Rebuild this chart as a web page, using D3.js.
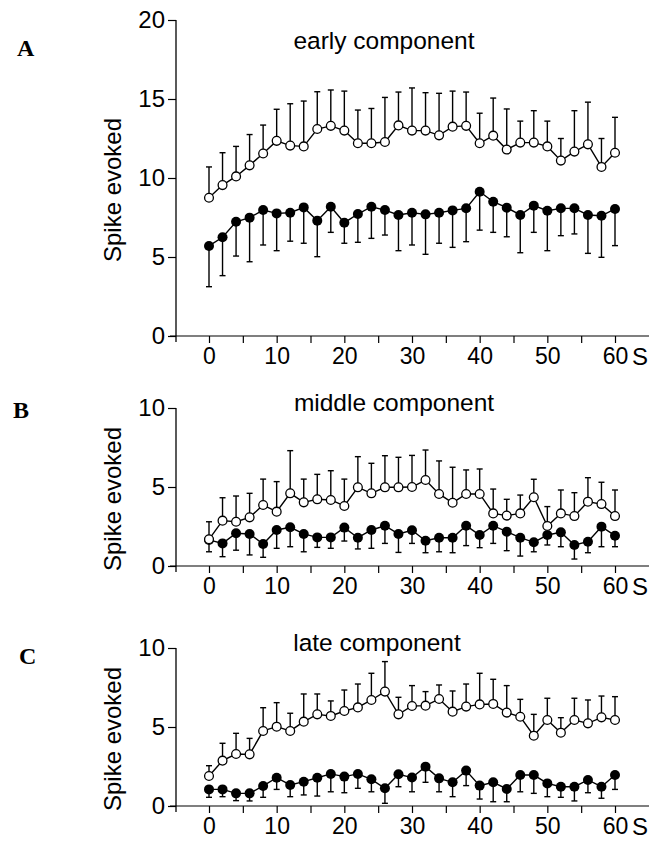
<!DOCTYPE html>
<html>
<head>
<meta charset="utf-8">
<script src="https://cdn.jsdelivr.net/npm/d3@7"></script>
<style>
  html, body { margin: 0; padding: 0; background: #fff; }
  svg { display: block; }
  text { font-family: "Liberation Sans", Arial, Helvetica, sans-serif; fill: #000; }
</style>
</head>
<body>
<svg id="chart" width="663" height="842"></svg>
<script>
// ---- data ----
const times = [0,2,4,6,8,10,12,14,16,18,20,22,24,26,28,30,32,34,36,38,40,42,44,46,48,50,52,54,56,58,60];
const xTickValues = [0,5,10,15,20,25,30,35,40,45,50,55,60];
const xTickLabels = [0,10,20,30,40,50,60];
const panelLetters = ["A","B","C"];
const panelTitles = ["early component","middle component","late component"];
const yTicksA = [0,5,10,15,20];
const yTicksBC = [0,5,10];

const earlyOpenMean  = [8.75,9.55,10.1,10.8,11.55,12.35,12.05,12.0,13.1,13.3,13.0,12.2,12.2,12.28,13.33,13.0,13.0,12.7,13.25,13.3,12.2,12.68,11.8,12.24,12.24,12.0,11.1,11.67,12.13,10.7,11.6];
const earlyOpenUpper = [10.7,11.6,12.0,12.75,13.35,14.35,14.7,14.87,15.46,15.57,15.5,14.3,14.4,15.1,15.44,15.7,15.4,15.36,15.5,15.44,14.1,15.06,14.37,13.6,14.26,13.6,12.5,14.26,14.8,12.5,13.84];
const earlyFillMean  = [5.7,6.25,7.23,7.49,7.97,7.76,7.8,8.14,7.3,8.18,7.17,7.72,8.18,7.97,7.66,7.8,7.7,7.8,7.95,8.08,9.13,8.5,8.12,7.66,8.25,7.93,8.08,8.08,7.66,7.61,8.04];
const earlyFillLower = [3.12,3.82,5.06,4.7,5.76,5.4,6.0,5.87,5.02,6.56,5.87,5.93,6.18,6.39,5.4,5.76,5.17,5.87,5.61,5.97,6.7,6.56,6.28,5.27,6.56,5.4,6.35,6.46,5.23,4.98,5.72];

const middleOpenMean  = [1.69,2.87,2.8,3.08,3.86,3.44,4.6,4.03,4.22,4.18,3.8,4.98,4.6,4.98,4.98,5.0,5.44,4.56,4.0,4.56,4.56,3.33,3.19,3.33,4.35,2.53,3.33,3.16,4.07,3.92,3.16];
const middleOpenUpper = [2.8,4.32,4.43,4.6,5.5,5.34,7.3,5.5,5.8,6.03,5.5,6.92,6.5,6.98,6.88,7.0,7.34,6.65,6.25,6.08,6.14,4.87,4.22,4.49,5.49,3.76,4.81,4.64,5.59,5.3,4.81];
const middleFillMean  = [1.65,1.43,2.07,2.03,1.39,2.28,2.45,2.03,1.81,1.81,2.43,1.79,2.28,2.55,2.03,2.26,1.6,1.79,1.79,2.55,1.96,2.55,2.17,1.79,1.5,1.96,2.13,1.33,1.54,2.49,1.92];
const middleFillLower = [0.9,0.59,1.0,0.7,0.55,1.12,1.22,0.9,1.18,1.12,1.58,1.08,1.12,1.43,0.86,1.43,0.84,0.9,0.84,1.29,1.16,1.43,0.97,0.63,0.9,1.33,1.22,0.44,0.84,1.22,1.22];

const lateOpenMean  = [1.9,2.87,3.29,3.27,4.75,5.02,4.75,5.34,5.8,5.7,6.01,6.24,6.71,7.24,5.8,6.33,6.35,6.77,5.97,6.29,6.43,6.46,5.91,5.65,4.45,5.44,4.64,5.44,5.23,5.61,5.44];
const lateOpenUpper = [2.55,3.97,4.6,4.28,6.22,6.54,5.87,7.09,7.09,6.65,7.34,7.72,8.4,9.14,6.88,7.62,7.24,7.66,7.28,7.72,8.4,8.02,7.62,6.75,5.8,6.82,5.59,6.82,6.71,6.96,6.92];
const lateFillMean  = [1.05,1.05,0.8,0.8,1.27,1.79,1.33,1.54,1.79,2.03,1.86,2.03,1.69,1.12,2.01,1.8,2.49,1.75,1.5,2.24,1.29,1.5,1.08,1.96,1.96,1.43,1.22,1.22,1.65,1.22,1.96];
const lateFillLower = [0.55,0.59,0.34,0.32,0.55,1.05,0.59,0.7,0.63,0.9,0.84,1.12,0.9,0.17,1.22,0.9,1.5,0.9,0.59,1.29,0.44,0.27,0.27,0.9,0.8,0.59,0.55,0.32,0.84,0.49,1.05];

// ---- layout ----
const panels = [
  {letter: panelLetters[0], title: panelTitles[0], yMax: 20, yTicks: yTicksA, top: 20, bottom: 336,
   letterPos: [17, 56], titlePos: [384, 49],
   open: [earlyOpenMean, earlyOpenUpper], fill: [earlyFillMean, earlyFillLower]},
  {letter: panelLetters[1], title: panelTitles[1], yMax: 10, yTicks: yTicksBC, top: 408, bottom: 566,
   letterPos: [13, 418], titlePos: [394, 411],
   open: [middleOpenMean, middleOpenUpper], fill: [middleFillMean, middleFillLower]},
  {letter: panelLetters[2], title: panelTitles[2], yMax: 10, yTicks: yTicksBC, top: 648, bottom: 806,
   letterPos: [19, 664], titlePos: [377, 651],
   open: [lateOpenMean, lateOpenUpper], fill: [lateFillMean, lateFillLower]}
];

const svg = d3.select("#chart");
const axisX = 176;
const x = d3.scaleLinear().domain([0, 60]).range([209, 615]);
const capW = 3;
const sw = 1.4;

panels.forEach(p => {
  const y = d3.scaleLinear().domain([0, p.yMax]).range([p.bottom, p.top]);
  const g = svg.append("g");

  // panel letter
  g.append("text").attr("x", p.letterPos[0]).attr("y", p.letterPos[1])
    .style("font-family", "'Liberation Serif', 'Times New Roman', serif")
    .style("font-weight", "bold").style("font-size", "24px").text(p.letter);

  // title
  g.append("text").attr("x", p.titlePos[0]).attr("y", p.titlePos[1])
    .attr("text-anchor", "middle").style("font-size", "24.5px").text(p.title);

  // y label
  g.append("text")
    .attr("transform", `translate(121,${(p.top + p.bottom) / 2 + 12}) rotate(-90)`)
    .attr("text-anchor", "middle").style("font-size", "24px").text("Spike evoked");

  // y axis
  const yAxis = d3.axisLeft(y).tickValues(p.yTicks).tickSize(8).tickPadding(3).tickFormat(d3.format("d"));
  const ya = g.append("g").attr("transform", `translate(${axisX},0)`).call(yAxis);
  ya.select(".domain").remove();
  ya.append("line").attr("x1", 0).attr("x2", 0).attr("y1", p.top).attr("y2", p.bottom + 6)
    .attr("stroke", "#000").attr("stroke-width", 1.3);
  ya.selectAll(".tick line").attr("stroke", "#000").attr("stroke-width", 1.2);
  ya.selectAll(".tick text").style("font-size", "24px").style("font-family", "'Liberation Sans', Arial, sans-serif").attr("fill", "#000");

  // x axis
  const xAxis = d3.axisBottom(x).tickValues(xTickValues).tickSize(7).tickPadding(5)
    .tickFormat(d => xTickLabels.includes(d) ? d3.format("d")(d) : "");
  const xa = g.append("g").attr("transform", `translate(0,${p.bottom})`).call(xAxis);
  xa.select(".domain").remove();
  xa.append("line").attr("x1", 170).attr("x2", 649).attr("y1", 0).attr("y2", 0)
    .attr("stroke", "#000").attr("stroke-width", 1.2);
  xa.selectAll(".tick line").attr("stroke", "#000").attr("stroke-width", 1.2);
  xa.selectAll(".tick text").style("font-size", "23px").style("font-family", "'Liberation Sans', Arial, sans-serif").attr("fill", "#000");
  g.append("text").attr("x", 632).attr("y", p.bottom + 29).style("font-size", "24px").text("S");

  const dataOpen = times.map((t, i) => ({t, m: p.open[0][i], e: p.open[1][i]}));
  const dataFill = times.map((t, i) => ({t, m: p.fill[0][i], e: p.fill[1][i]}));

  const line = d3.line().x(d => x(d.t)).y(d => y(d.m));

  [dataOpen, dataFill].forEach(data => {
    g.append("path").datum(data).attr("d", line).attr("fill", "none")
      .attr("stroke", "#000").attr("stroke-width", sw);
    const eb = g.append("g");
    eb.selectAll("line.v").data(data).join("line").attr("class", "v")
      .attr("x1", d => x(d.t)).attr("x2", d => x(d.t))
      .attr("y1", d => y(d.m)).attr("y2", d => y(d.e))
      .attr("stroke", "#000").attr("stroke-width", sw);
    eb.selectAll("line.c").data(data).join("line").attr("class", "c")
      .attr("x1", d => x(d.t) - capW).attr("x2", d => x(d.t) + capW)
      .attr("y1", d => y(d.e)).attr("y2", d => y(d.e))
      .attr("stroke", "#000").attr("stroke-width", sw);
  });

  g.selectAll("circle.f").data(dataFill).join("circle").attr("class", "f")
    .attr("cx", d => x(d.t)).attr("cy", d => y(d.m)).attr("r", 5)
    .attr("fill", "#000");
  g.selectAll("circle.o").data(dataOpen).join("circle").attr("class", "o")
    .attr("cx", d => x(d.t)).attr("cy", d => y(d.m)).attr("r", 4.4)
    .attr("fill", "#fff").attr("stroke", "#000").attr("stroke-width", 1.3);
});
</script>
</body>
</html>
